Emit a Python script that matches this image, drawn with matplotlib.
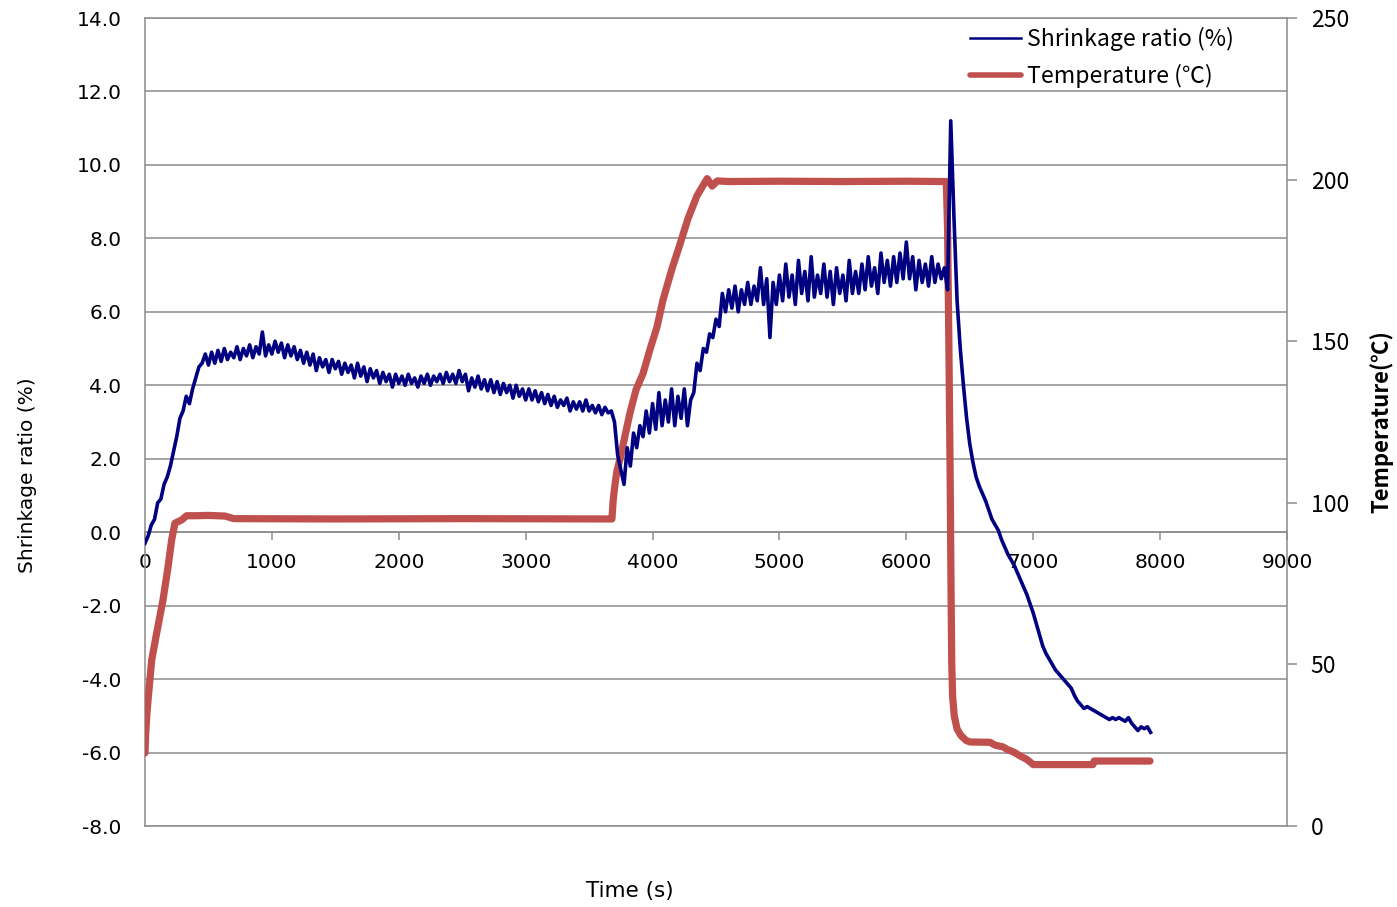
import numpy as np
import matplotlib
matplotlib.use("Agg")
import matplotlib.pyplot as plt
from matplotlib.lines import Line2D

# logger interval for the shrinkage channel (s)
STEP = 25

# shrinkage ratio (%), one value every STEP seconds
shrink_rise = [-0.3, -0.1, 0.2, 0.35, 0.8, 0.9, 1.3, 1.5, 1.8, 2.2,
               2.6, 3.1, 3.3, 3.7, 3.5, 3.9, 4.2, 4.5, 4.6]
shrink_hold1 = [4.85, 4.55, 4.9, 4.6, 4.95, 4.65, 5.0, 4.7, 4.9, 4.75,
                5.05, 4.7, 5.0, 4.8, 5.1, 4.75, 5.05, 4.85, 5.45, 4.8,
                5.1, 4.85, 5.2, 4.9, 5.15, 4.75, 5.1, 4.8, 5.05, 4.7]
shrink_sag = [4.95, 4.6, 4.9, 4.55, 4.85, 4.4, 4.75, 4.5, 4.7, 4.35,
              4.7, 4.45, 4.65, 4.3, 4.6, 4.35, 4.55, 4.2, 4.6, 4.25,
              4.5, 4.1, 4.45, 4.2]
shrink_hold2 = [4.4, 4.05, 4.35, 4.1, 4.3, 3.95, 4.3, 4.05, 4.25, 4.0,
                4.3, 4.05, 4.2, 3.95, 4.25, 4.05, 4.3, 4.0, 4.25, 4.1,
                4.3, 4.05, 4.35, 4.1, 4.3, 4.05, 4.4, 4.1, 4.3, 3.85,
                4.2, 3.95]
shrink_decay = [4.25, 3.9, 4.15, 3.85, 4.15, 3.8, 4.1, 3.75, 4.05, 3.8,
                4.0, 3.65, 4.0, 3.7, 3.9, 3.6, 3.9, 3.6, 3.85, 3.55,
                3.8, 3.5, 3.75, 3.45, 3.7, 3.4, 3.6, 3.45, 3.65, 3.3,
                3.55, 3.35, 3.55, 3.3, 3.6, 3.3, 3.45, 3.25, 3.45, 3.2,
                3.4, 3.25, 3.3]
shrink_dip = [3.0, 2.1, 1.7, 1.3, 2.3, 1.8, 2.7, 2.3, 2.9]
shrink_low = [2.6, 3.3, 2.7, 3.5, 2.8, 3.8, 2.9, 3.6, 3.0, 3.9,
              2.9, 3.7, 3.1, 3.9, 2.9, 3.6]
shrink_climb = [3.8, 4.6, 4.4, 5.0, 4.9, 5.4, 5.3, 5.8, 5.6, 6.5]
shrink_hold3 = [6.0, 6.6, 6.1, 6.7, 6.0, 6.6, 6.2, 6.8, 6.2, 6.7,
                6.3, 7.2, 6.2, 6.9, 5.3, 6.8, 6.2, 7.0, 6.3, 7.3,
                6.4, 7.0, 6.2, 7.4, 6.5, 7.1, 6.3, 7.5, 6.4, 7.0,
                6.5, 7.3, 6.4, 7.1, 6.2, 7.2, 6.5, 7.0, 6.3, 7.4,
                6.5, 7.1, 6.5, 7.3, 6.6, 7.5, 6.7, 7.2, 6.5, 7.6,
                6.8, 7.4, 6.7, 7.5, 6.8, 7.6, 6.9, 7.9, 6.9, 7.5,
                6.6, 7.4, 6.8, 7.3, 6.7, 7.5, 6.8, 7.3, 6.9, 7.2,
                6.6]
shrink_cool = [11.2, 8.6, 6.3, 5.0, 4.0, 3.1, 2.4, 1.9, 1.5, 1.25,
               1.05, 0.85, 0.6, 0.35, 0.2, 0.05, -0.2, -0.4, -0.6, -0.75,
               -0.9, -1.1, -1.3, -1.5, -1.7, -1.95, -2.2, -2.5, -2.8, -3.1,
               -3.3, -3.45, -3.6, -3.75, -3.85, -3.95, -4.05, -4.15, -4.25, -4.45,
               -4.6, -4.7, -4.8, -4.75, -4.8, -4.85, -4.9, -4.95, -5.0, -5.05,
               -5.1, -5.05, -5.1, -5.05, -5.1, -5.15, -5.05, -5.2, -5.3, -5.4,
               -5.3, -5.35, -5.3, -5.45]

# temperature (C): time stamps and readings per phase
temp_t_heat = [0, 5, 13, 24, 53, 92, 142, 181, 210, 236, 289, 328]
temp_heat = [22.6, 28.0, 33.7, 39.0, 51.4, 59.7, 70.0, 80.0, 88.5, 93.7, 94.7, 96.0]
temp_t_hold1 = [400, 500, 630, 700, 1500, 2500, 3650]
temp_hold1 = [96.0, 96.1, 95.9, 95.1, 95.0, 95.1, 95.0]
temp_t_ramp = [3680, 3690, 3705, 3720, 3743, 3790, 3822, 3870, 3925, 3980,
               4035, 4082, 4150, 4216, 4280, 4350, 4430, 4470, 4510]
temp_ramp = [95.0, 100.9, 106.0, 110.0, 113.5, 122.0, 127.8, 135.0, 140.0, 147.5,
             154.4, 162.7, 172.0, 180.0, 188.0, 195.0, 200.3, 198.0, 199.6]
temp_t_hold2 = [4600, 5000, 5500, 6000, 6300]
temp_hold2 = [199.4, 199.5, 199.4, 199.5, 199.4]
temp_t_cool = [6315, 6325, 6335, 6345, 6352, 6358, 6365, 6378, 6400, 6430,
               6470, 6500, 6660, 6700, 6760, 6800, 6850, 6900, 6950, 7000,
               7470, 7480, 7920]
temp_cool = [199.4, 185.0, 150.0, 110.0, 75.0, 50.0, 40.0, 34.0, 30.0, 28.0,
             26.5, 26.0, 25.9, 25.0, 24.5, 23.6, 22.8, 21.6, 20.6, 19.0,
             19.0, 20.1, 20.1]

shrinkage = (shrink_rise + shrink_hold1 + shrink_sag + shrink_hold2 + shrink_decay
             + shrink_dip + shrink_low + shrink_climb + shrink_hold3 + shrink_cool)
time_s = np.arange(len(shrinkage)) * STEP

temp_time = temp_t_heat + temp_t_hold1 + temp_t_ramp + temp_t_hold2 + temp_t_cool
temperature = temp_heat + temp_hold1 + temp_ramp + temp_hold2 + temp_cool

BLUE = "#000080"
RED = "#C0504D"
GRID = "#8c8c8c"
CJK = ["Noto Sans CJK JP", "DejaVu Sans"]
W, H = 1397, 907

fig = plt.figure(figsize=(W / 100, H / 100), dpi=100)
ax = fig.add_axes([145 / W, 1 - 826 / H, (1287 - 145) / W, (826 - 18) / H])
ax2 = ax.twinx()

# grid on primary axis, below everything
ax.set_axisbelow(True)
ax.yaxis.grid(True, color=GRID, lw=1.1)
ax.set_xlim(0, 9000)
ax.set_ylim(-8, 14)
ax.set_yticks(np.arange(-8, 14.1, 2))
ax.set_yticklabels([f"{v:.1f}" for v in np.arange(-8, 14.1, 2)])
ax.set_xticks(np.arange(0, 9001, 1000))

for s in ["top", "right"]:
    ax.spines[s].set_visible(False)
ax.spines["left"].set_color(GRID)
ax.spines["left"].set_linewidth(1.1)
ax.spines["bottom"].set_position(("data", 0))
ax.spines["bottom"].set_color(GRID)
ax.spines["bottom"].set_linewidth(1.1)
ax.tick_params(axis="y", length=0, pad=17, labelsize=14.5)
ax.tick_params(axis="x", direction="out", length=6, color=GRID, width=1.1,
               pad=9, labelsize=14.5)

# secondary axis (temperature) drawn on top, carries both lines
ax2.set_ylim(0, 250)
ax2.set_yticks(np.arange(0, 251, 50))
ax2.spines["left"].set_visible(False)
for s in ["top", "right", "bottom"]:
    ax2.spines[s].set_color(GRID)
    ax2.spines[s].set_linewidth(1.1)
ax2.tick_params(axis="y", direction="out", length=7, color=GRID, width=1.1,
                pad=10, labelsize=16.5)
for lbl in ax2.get_yticklabels():
    lbl.set_family(CJK)

ax2.plot(temp_time, temperature, color=RED, lw=5.2, solid_capstyle="round",
         solid_joinstyle="round")
ax2.plot(time_s, shrinkage, color=BLUE, lw=2.6, transform=ax.transData)
ax2.set_ylim(0, 250)

fig.text(28 / W, 1 - 475 / H, "Shrinkage ratio (%)", rotation=90,
         ha="center", va="center", fontsize=14.5)
fig.text(1381 / W, 1 - 422 / H, "Temperature(℃)", rotation=90, ha="center",
         va="center", fontsize=16, fontweight="bold", family=CJK)
fig.text(630 / W, 1 - 891 / H, "Time (s)", ha="center", va="center", fontsize=15.5)

handles = [Line2D([], [], color=BLUE, lw=1.8),
           Line2D([], [], color=RED, lw=4.0, solid_capstyle="round")]
fig.legend(handles, ["Shrinkage ratio (%)", "Temperature (℃)"],
           loc="upper left", bbox_to_anchor=(958 / W, 1 - 15 / H),
           frameon=False, borderpad=0, handlelength=2.25, handletextpad=0.26,
           labelspacing=0.59, prop={"family": CJK, "size": 16.6})

fig.savefig("out.png", dpi=100)
